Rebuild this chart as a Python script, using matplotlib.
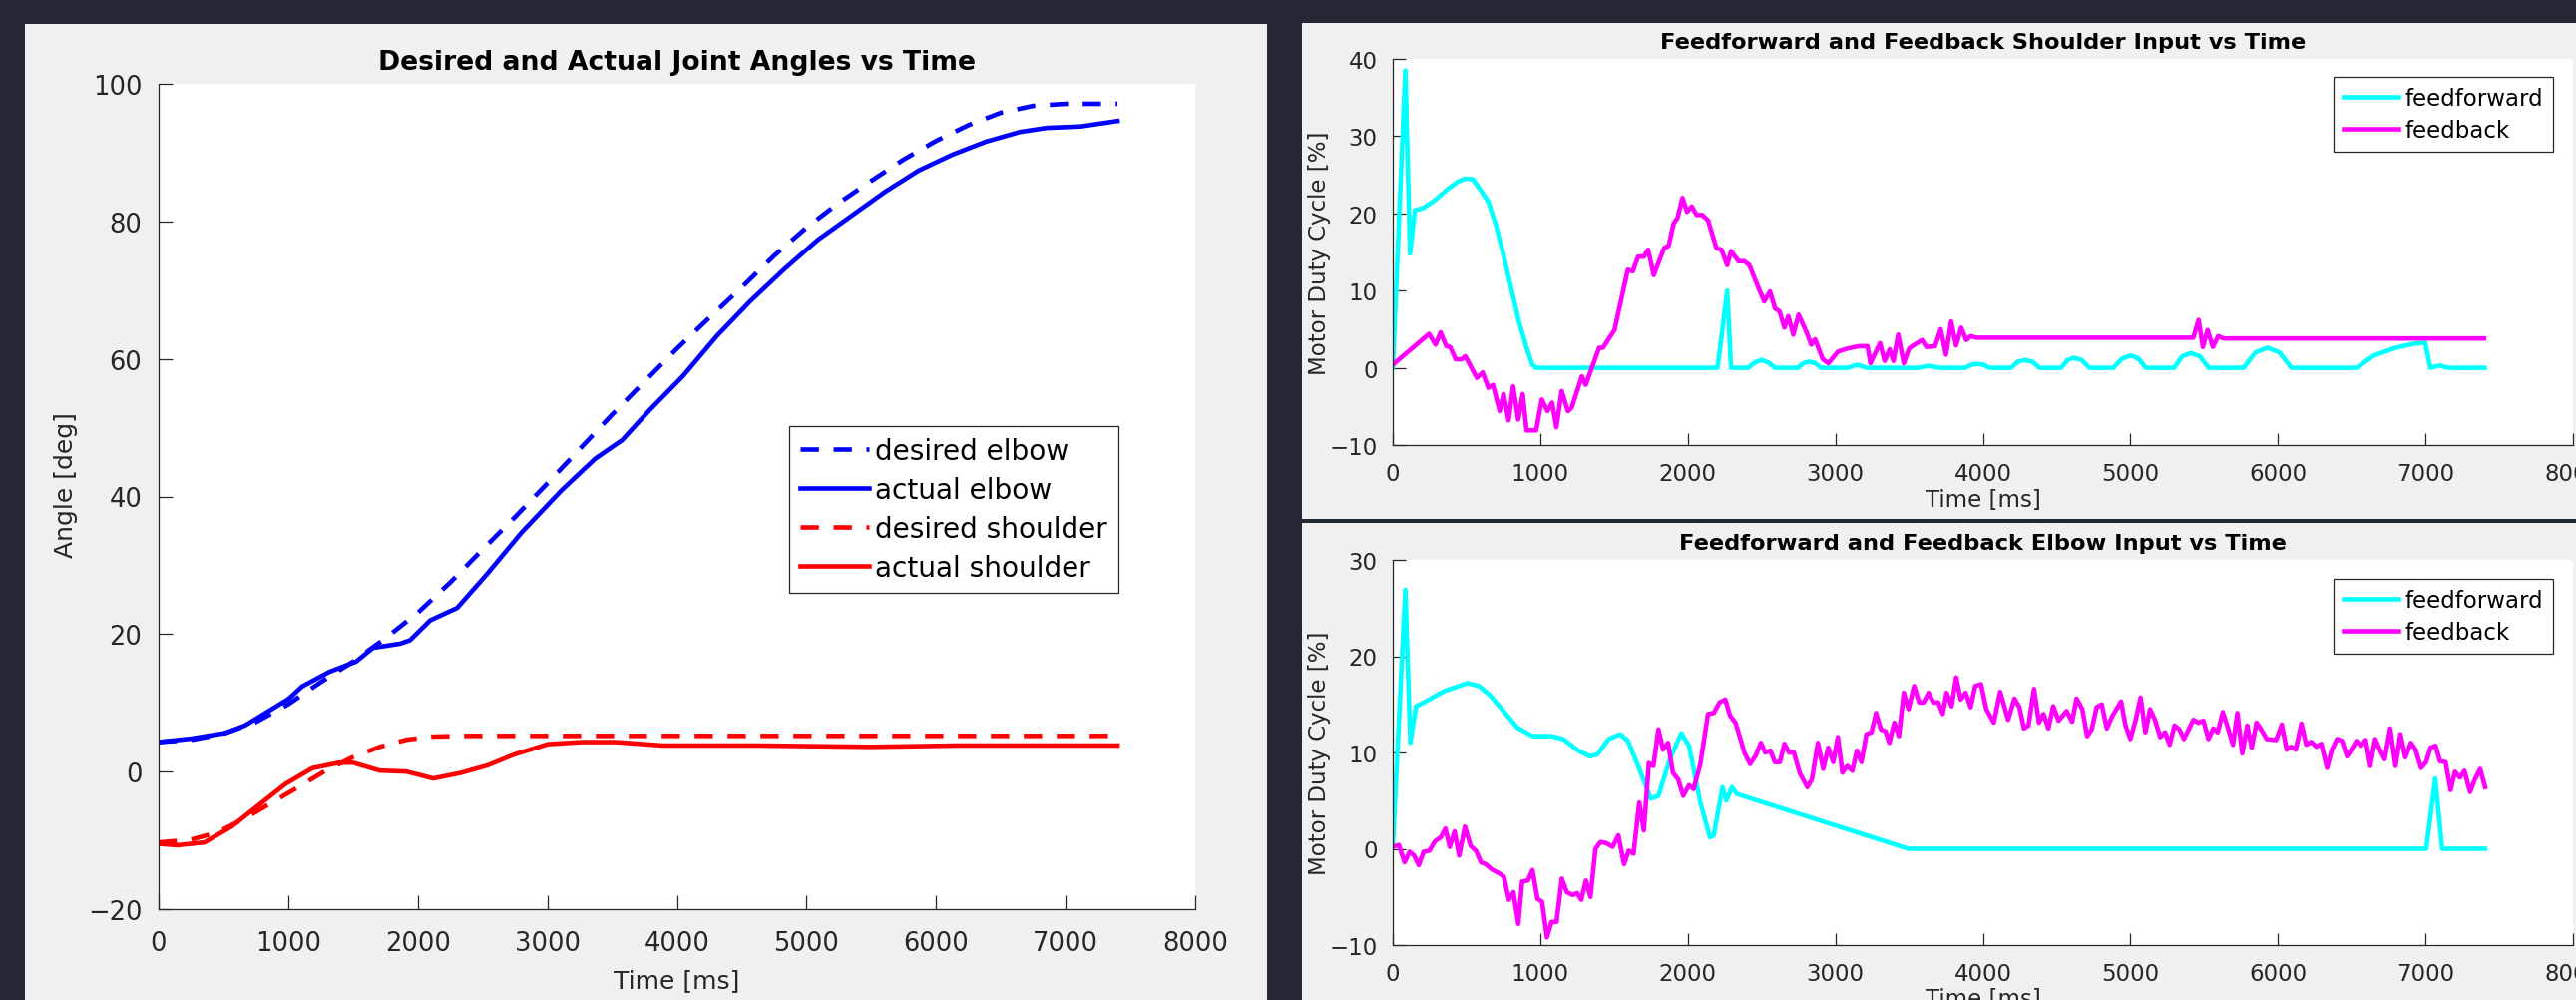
import matplotlib
matplotlib.use("Agg")
import matplotlib.pyplot as plt
from matplotlib.patches import Rectangle

# ---------------- data ----------------
# left: joint angles [deg] vs time [ms]
t_des_elbow = [0, 250, 500, 750, 1000, 1250, 1500, 1750, 2000, 2250, 2500, 2750, 3000,
               3250, 3500, 3750, 4000, 4250, 4500, 4750, 5000, 5250, 5500, 5750, 6000,
               6250, 6500, 6750, 7000, 7400]
des_elbow = [4.3, 4.6, 5.5, 7.2, 9.8, 13.0, 16.0, 19.4, 23.1, 27.5, 32.3, 37.0, 41.9,
             46.9, 51.9, 56.7, 61.5, 66.0, 70.4, 75.0, 79.1, 82.7, 85.9, 89.0, 91.7,
             94.0, 95.8, 96.8, 97.1, 97.1]

t_act_elbow = [0, 250, 510, 665, 848, 1004, 1108, 1316, 1524, 1654, 1862, 1940, 2096, 2304,
               2538, 2798, 3110, 3370, 3578, 3786, 4046, 4306, 4566, 4826, 5086, 5346,
               5606, 5866, 6126, 6386, 6646, 6854, 7114, 7400]
act_elbow = [4.3, 4.8, 5.6, 6.7, 8.8, 10.6, 12.4, 14.5, 16.0, 18.0, 18.6, 19.1, 22.0, 23.8,
             28.8, 34.7, 40.9, 45.5, 48.2, 52.5, 57.5, 63.3, 68.4, 73.0, 77.3, 80.8,
             84.3, 87.4, 89.7, 91.6, 93.0, 93.6, 93.8, 94.6]

t_des_shoulder = [0, 250, 458, 665, 874, 1082, 1290, 1498, 1706, 1914, 2120, 2400, 7400]
des_shoulder = [-10.3, -9.9, -8.8, -6.8, -4.5, -2.2, 0.15, 2.1, 3.6, 4.65, 5.1, 5.2, 5.2]

t_act_shoulder = [0, 146, 354, 562, 770, 978, 1186, 1394, 1498, 1706, 1914, 2120, 2330,
                  2538, 2746, 3006, 3266, 3526, 3890, 4618, 5502, 6178, 7400]
act_shoulder = [-10.5, -10.7, -10.3, -8.0, -4.9, -1.8, 0.5, 1.3, 1.3, 0.15, 0.0, -1.0, -0.2,
                0.9, 2.5, 4.0, 4.3, 4.3, 3.8, 3.8, 3.6, 3.8, 3.8]

# top right: shoulder input [%]
t_sh_ff = [0, 85, 117, 150, 207, 285, 363, 440, 492, 544, 596, 648, 699, 751, 803, 855,
           907, 946, 972, 2202, 2267, 2293, 2409, 2455, 2500, 2545, 2591, 2746, 2785,
           2824, 2863, 2902, 3083, 3148, 3212, 3558, 3632, 3706, 3882, 3922, 3962, 4003,
           4044, 4191, 4238, 4286, 4334, 4383, 4530, 4574, 4618, 4670, 4722, 4884, 4944,
           5003, 5054, 5104, 5296, 5352, 5408, 5470, 5531, 5767, 5848, 5929, 6010, 6091,
           6533, 6651, 6798, 6916, 6998, 7033, 7098, 7151, 7401]
sh_ff = [0, 38.5, 14.8, 20.4, 20.7, 21.7, 23.0, 24.1, 24.5, 24.4, 23.0, 21.5, 18.5, 14.6,
         10.3, 6.0, 2.6, 0.4, 0, 0, 10.0, 0, 0, 0.7, 1.0, 0.7, 0, 0, 0.6, 0.8, 0.6, 0, 0,
         0.4, 0, 0, 0.25, 0, 0, 0.4, 0.5, 0.4, 0, 0, 0.8, 1.0, 0.8, 0, 0, 1.0, 1.3, 1.0, 0,
         0, 1.2, 1.6, 1.2, 0, 0, 1.5, 1.9, 1.5, 0, 0, 2.0, 2.6, 2.0, 0, 0, 1.6, 2.6, 3.1,
         3.25, 0, 0.3, 0, 0]

t_sh_fb = [0, 246, 290, 324, 363, 389, 427, 466, 492, 570, 609, 648, 679, 725, 751, 785,
           816, 850, 881, 907, 972, 1010, 1049, 1080, 1109, 1145, 1187, 1212, 1282, 1308,
           1399, 1425, 1503, 1593, 1627, 1663, 1702, 1731, 1769, 1839, 1870, 1904, 1930,
           1964, 1995, 2026, 2060, 2098, 2137, 2194, 2228, 2267, 2293, 2345, 2383, 2417,
           2461, 2518, 2557, 2591, 2622, 2655, 2681, 2715, 2751, 2798, 2837, 2863, 2915,
           2953, 3018, 3083, 3161, 3218, 3238, 3303, 3334, 3368, 3394, 3426, 3464, 3500,
           3529, 3588, 3617, 3676, 3714, 3750, 3785, 3818, 3853, 3888, 3918, 3956, 5426,
           5462, 5491, 5523, 5559, 5594, 5632, 7397]
sh_fb = [0.4, 4.4, 3.0, 4.6, 2.8, 2.7, 1.1, 1.1, 1.5, -1.3, -0.6, -2.6, -2.2, -5.6, -3.4,
         -6.8, -2.4, -6.7, -3.4, -8.1, -8.1, -4.1, -5.6, -4.5, -7.7, -3.0, -5.6, -5.2,
         -1.1, -2.2, 2.6, 2.6, 4.9, 12.7, 12.5, 14.4, 14.4, 15.3, 12.0, 15.5, 15.8, 18.7,
         19.4, 22.0, 20.2, 20.9, 19.8, 19.8, 19.1, 15.5, 15.3, 13.3, 15.1, 13.8, 13.8,
         13.3, 11.2, 8.6, 9.9, 7.7, 7.3, 5.2, 6.7, 4.3, 6.9, 4.9, 3.0, 3.7, 1.1, 0.6, 2.1,
         2.5, 2.8, 2.8, 0.6, 3.2, 0.9, 2.4, 0.9, 4.3, 0.6, 2.5, 2.9, 3.6, 2.7, 2.8, 5.0,
         1.7, 6.0, 2.9, 5.2, 3.6, 4.1, 3.9, 3.9, 6.2, 2.7, 4.9, 2.7, 4.1, 3.8, 3.8]

# bottom right: elbow input [%]
t_el_ff = [0, 85, 119, 158, 222, 352, 507, 585, 662, 740, 843, 947, 1076, 1154, 1257,
           1335, 1387, 1464, 1542, 1594, 1671, 1749, 1801, 1878, 1956, 2008, 2085, 2150,
           2176, 2235, 2261, 2300, 2331, 3496, 7005, 7066, 7113, 7404]
el_ff = [0.2, 26.9, 11.0, 14.8, 15.3, 16.4, 17.2, 16.9, 15.9, 14.5, 12.6, 11.7, 11.7, 11.4,
         10.2, 9.6, 9.8, 11.4, 11.9, 11.2, 8.3, 5.2, 5.5, 9.3, 12.0, 10.7, 4.8, 1.2, 1.4,
         6.4, 5.0, 6.4, 5.7, 0, 0, 7.3, 0, 0]

t_el_fb = [0, 41, 80, 114, 145, 176, 210, 248, 287, 326, 357, 386, 419, 450, 489, 528, 564,
           598, 631, 668, 727, 753, 787, 818, 851, 877, 916, 947, 981, 1012, 1045, 1076,
           1110, 1146, 1180, 1219, 1250, 1278, 1309, 1340, 1374, 1408, 1446, 1490, 1529,
           1568, 1599, 1632, 1671, 1702, 1736, 1767, 1801, 1832, 1866, 1899, 1935, 1969,
           2008, 2039, 2085, 2137, 2176, 2215, 2254, 2287, 2323, 2357, 2383, 2422, 2461,
           2495, 2525, 2559, 2590, 2624, 2655, 2686, 2719, 2758, 2810, 2841, 2882, 2918,
           2952, 2986, 3017, 3048, 3081, 3115, 3146, 3177, 3211, 3245, 3276, 3309, 3340,
           3366, 3400, 3431, 3464, 3496, 3534, 3568, 3599, 3632, 3664, 3697, 3728, 3754,
           3788, 3819, 3850, 3883, 3917, 3948, 3987, 4023, 4074, 4117, 4171, 4214, 4248,
           4278, 4309, 4347, 4380, 4411, 4444, 4477, 4513, 4567, 4605, 4635, 4674, 4707,
           4738, 4771, 4806, 4840, 4878, 4937, 4967, 5000, 5036, 5069, 5102, 5133, 5166,
           5202, 5235, 5266, 5299, 5332, 5363, 5427, 5460, 5495, 5529, 5562, 5592, 5626,
           5656, 5695, 5725, 5758, 5792, 5822, 5855, 5886, 5924, 5988, 6026, 6059, 6090,
           6121, 6159, 6192, 6225, 6261, 6294, 6333, 6366, 6401, 6435, 6468, 6499, 6532,
           6562, 6595, 6626, 6659, 6690, 6723, 6761, 6797, 6830, 6863, 6901, 6932, 6970,
           7004, 7034, 7068, 7098, 7136, 7170, 7200, 7233, 7264, 7302, 7335, 7371, 7404]
el_fb = [0.2, 0.4, -1.4, -0.3, -0.7, -1.7, -0.3, -0.2, 0.8, 1.2, 2.1, 0.2, 1.8, -0.7, 2.3,
         0.3, -0.2, -1.4, -1.6, -2.1, -2.6, -2.9, -5.3, -4.5, -7.8, -3.4, -3.3, -2.2, -5.2,
         -5.5, -9.2, -7.6, -7.6, -3.1, -4.5, -4.8, -4.6, -5.3, -3.3, -5.0, 0.0, 0.7, 0.6,
         0.2, 1.4, -1.6, -0.2, -0.5, 4.8, 1.9, 8.9, 8.6, 12.4, 10.3, 11.0, 7.9, 7.2, 5.5,
         6.6, 6.2, 8.8, 14.0, 14.1, 15.2, 15.5, 13.8, 13.1, 11.4, 10.0, 8.8, 9.7, 11.0,
         10.0, 10.2, 9.0, 9.0, 10.9, 10.0, 10.0, 7.9, 6.4, 7.2, 11.0, 8.3, 10.5, 9.0, 11.6,
         7.9, 8.6, 8.1, 10.2, 9.0, 11.9, 12.1, 14.1, 12.4, 12.2, 11.0, 13.1, 11.7, 16.2,
         14.5, 16.9, 15.2, 15.2, 16.2, 15.2, 15.2, 14.0, 16.2, 14.8, 17.8, 15.5, 16.2, 14.7,
         16.9, 17.1, 14.5, 13.1, 16.3, 13.4, 15.6, 14.7, 12.5, 12.8, 16.6, 13.1, 14.0, 12.5,
         14.8, 13.3, 14.3, 13.2, 15.6, 14.5, 11.7, 12.4, 14.7, 15.0, 12.5, 13.8, 15.3, 12.8,
         11.4, 13.4, 15.7, 12.1, 14.5, 13.4, 11.6, 12.1, 10.8, 12.8, 12.4, 11.4, 13.4, 13.1,
         13.3, 11.4, 12.5, 12.1, 14.2, 12.8, 10.8, 14.1, 9.9, 12.8, 10.5, 13.1, 12.4, 11.4,
         11.3, 12.9, 10.3, 10.6, 10.3, 13.0, 10.8, 11.1, 10.6, 10.9, 8.4, 10.3, 11.4, 11.2,
         9.6, 10.3, 11.2, 10.7, 11.3, 8.6, 11.4, 10.3, 9.3, 12.5, 8.6, 11.9, 9.5, 11.0, 10.3,
         8.4, 9.0, 10.5, 10.7, 9.1, 9.0, 6.1, 8.0, 7.4, 8.1, 5.9, 7.2, 8.3, 6.4]

x_ticks = [0, 1000, 2000, 3000, 4000, 5000, 6000, 7000, 8000]

# ---------------- styling ----------------
W, H = 2582, 1003
BG = "#232834"
PANEL = "#f0f0f0"
AXC = "#262626"
LW = 3.3

plt.rcParams["font.family"] = ["DejaVu Sans"]


def px_rect(x0, y0, x1, y1):
    # pixel box (top-left origin) -> figure fraction [l, b, w, h]
    return [x0 / W, 1 - y1 / H, (x1 - x0) / W, (y1 - y0) / H]


def style_axes(ax, fs, ticklen, xpad, ypad):
    ax.set_zorder(5)
    ax.set_facecolor("white")
    for s in ("top", "right"):
        ax.spines[s].set_visible(False)
    for s in ("left", "bottom"):
        ax.spines[s].set_color(AXC)
        ax.spines[s].set_linewidth(0.9)
    ax.tick_params(direction="in", length=ticklen, width=0.9, color=AXC,
                   labelcolor=AXC, labelsize=fs)
    ax.tick_params(axis="x", pad=xpad)
    ax.tick_params(axis="y", pad=ypad)
    ax.set_xlim(0, 8000)
    ax.set_xticks(x_ticks)


def style_legend(lg):
    lg.get_frame().set_edgecolor(AXC)
    lg.get_frame().set_linewidth(0.9)


fig = plt.figure(figsize=(W / 100, H / 100), dpi=100, facecolor=BG)

# grey figure panels behind the axes
for box in [(25, 25, 1270, H), (1305, 24, W, 521), (1305, 525, W, H)]:
    l, b, w, h = px_rect(*box)
    fig.patches.append(Rectangle((l, b), w, h, transform=fig.transFigure,
                                 facecolor=PANEL, edgecolor="none", zorder=-10))

# ---- left: joint angles ----
ax1 = fig.add_axes(px_rect(159, 85, 1198, 912))
style_axes(ax1, 18.5, 10, 15, 12)
ax1.plot(t_des_elbow, des_elbow, color="blue", lw=LW, dashes=(4, 3.2), label="desired elbow")
ax1.plot(t_act_elbow, act_elbow, color="blue", lw=LW, label="actual elbow")
ax1.plot(t_des_shoulder, des_shoulder, color="red", lw=LW, dashes=(4, 3.2), label="desired shoulder")
ax1.plot(t_act_shoulder, act_shoulder, color="red", lw=LW, label="actual shoulder")
ax1.set_ylim(-20, 100)
ax1.set_yticks([-20, 0, 20, 40, 60, 80, 100])
ax1.set_title("Desired and Actual Joint Angles vs Time", fontsize=19.2, fontweight="bold",
              y=1.027, pad=0, va="center")
ax1.set_xlabel("Time [ms]", fontsize=18, color=AXC)
ax1.set_ylabel("Angle [deg]", fontsize=18, color=AXC)
ax1.xaxis.set_label_coords(0.5, -0.072)
ax1.yaxis.set_label_coords(-0.078, 0.515)
leg = ax1.legend(loc="upper left", bbox_to_anchor=(791 / W, 1 - 428 / H),
                 bbox_transform=fig.transFigure, borderaxespad=0, fontsize=20.2,
                 handlelength=2.45, handletextpad=0.22, labelspacing=0.39,
                 borderpad=0.4, fancybox=False, framealpha=1)
style_legend(leg)

# ---- right: feedforward / feedback ----
right_specs = [
    ((1396, 60, 2579, 447), t_sh_ff, sh_ff, t_sh_fb, sh_fb, (-10, 40),
     "Feedforward and Feedback Shoulder Input vs Time", 78),
    ((1396, 562, 2579, 948), t_el_ff, el_ff, t_el_fb, el_fb, (-10, 30),
     "Feedforward and Feedback Elbow Input vs Time", 581),
]
for box, tff, vff, tfb, vfb, ylim, title, leg_top in right_specs:
    ax = fig.add_axes(px_rect(*box))
    style_axes(ax, 16.5, 9, 12, 11)
    ax.plot(tff, vff, color="cyan", lw=LW, label="feedforward", solid_joinstyle="round")
    ax.plot(tfb, vfb, color="magenta", lw=LW, label="feedback", solid_joinstyle="round")
    ax.set_ylim(*ylim)
    ax.set_yticks(list(range(ylim[0], ylim[1] + 1, 10)))
    ax.set_title(title, fontsize=16.2, fontweight="bold", y=1.043, pad=0, va="center")
    ax.set_xlabel("Time [ms]", fontsize=16.5, color=AXC)
    ax.set_ylabel("Motor Duty Cycle [%]", fontsize=16.5, color=AXC)
    ax.xaxis.set_label_coords(0.5, -0.11)
    ax.yaxis.set_label_coords(-0.052, 0.5)
    lg = ax.legend(loc="upper right", bbox_to_anchor=(2559 / W, 1 - leg_top / H),
                   bbox_transform=fig.transFigure, borderaxespad=0, fontsize=16.5,
                   handlelength=2.4, handletextpad=0.3, labelspacing=0.42,
                   borderpad=0.42, fancybox=False, framealpha=1)
    style_legend(lg)

fig.savefig("out.png", dpi=100, facecolor=BG)
